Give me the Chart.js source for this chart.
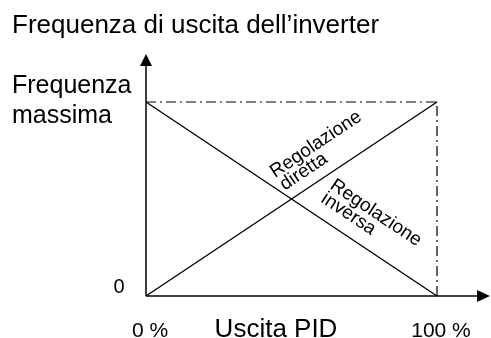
<!DOCTYPE html>
<html>
<head>
<meta charset="utf-8">
<script src="https://cdn.jsdelivr.net/npm/chart.js@4"></script>
<style>
  html, body { margin: 0; padding: 0; background: #fff; }
  #wrap { width: 491px; height: 338px; }
</style>
</head>
<body>
<div id="wrap"><canvas id="chart"></canvas></div>
<script>
// data
const pidOutput = [0, 100];          // x: uscita PID (%)
const directFreq = [0, 100];         // regolazione diretta
const inverseFreq = [100, 0];        // regolazione inversa
const maxFreqLine = [100, 100];      // frequenza massima (tratto-punto)
const fullScaleX = [100, 100];
const fullScaleY = [0, 100];

const xTickValues = [0, 100];
const xTickLabels = ['0 %', '100 %'];
const yTickValues = [0, 100];
const yTickLabels = [['0'], ['Frequenza', 'massima']];

const titleText = 'Frequenza di uscita dell\u2019inverter';
const xAxisTitle = 'Uscita PID';
const lineLabels = [['Regolazione', 'diretta'], ['Regolazione', 'inversa']];

const FONT = '"Liberation Sans", Arial, Helvetica, sans-serif';

function pts(xs, ys) {
  return xs.map((x, i) => ({ x: x, y: ys[i] }));
}

// assi con frecce + testi
const drawingPlugin = {
  id: 'drawing',
  afterDatasetsDraw(chart) {
    const ctx = chart.ctx;
    const xs = chart.scales.x;
    const ys = chart.scales.y;
    const x0 = xs.getPixelForValue(0);
    const y0 = ys.getPixelForValue(0);

    ctx.save();
    ctx.strokeStyle = '#000';
    ctx.fillStyle = '#000';
    ctx.lineWidth = 1.5;

    // asse y
    ctx.beginPath();
    ctx.moveTo(x0, y0);
    ctx.lineTo(x0, 64);
    ctx.stroke();
    ctx.beginPath();
    ctx.moveTo(x0, 54);
    ctx.lineTo(x0 - 6, 66);
    ctx.lineTo(x0 + 6, 66);
    ctx.closePath();
    ctx.fill();

    // asse x
    ctx.beginPath();
    ctx.moveTo(x0, y0);
    ctx.lineTo(480, y0);
    ctx.stroke();
    ctx.beginPath();
    ctx.moveTo(490, y0);
    ctx.lineTo(477, y0 - 6);
    ctx.lineTo(477, y0 + 6);
    ctx.closePath();
    ctx.fill();

    // titolo
    ctx.textBaseline = 'alphabetic';
    ctx.textAlign = 'left';
    ctx.font = '26px ' + FONT;
    ctx.fillText(titleText, 12, 33);

    // etichette asse y
    ctx.font = '20px ' + FONT;
    ctx.textAlign = 'center';
    ctx.fillText(yTickLabels[0][0], 119, ys.getPixelForValue(yTickValues[0]) - 3);
    ctx.font = '25px ' + FONT;
    ctx.textAlign = 'left';
    const yTop = ys.getPixelForValue(yTickValues[1]);
    ctx.fillText(yTickLabels[1][0], 12, yTop - 9);
    ctx.fillText(yTickLabels[1][1], 12, yTop + 21);

    // etichette asse x
    ctx.font = '21px ' + FONT;
    ctx.textAlign = 'center';
    xTickValues.forEach((v, i) => {
      ctx.fillText(xTickLabels[i], xs.getPixelForValue(v) + 4, 337);
    });
    ctx.font = '26px ' + FONT;
    ctx.fillText(xAxisTitle, 276, 337);

    // etichette ruotate
    const ang = Math.atan2(y0 - ys.getPixelForValue(100), xs.getPixelForValue(100) - x0);
    ctx.font = '19px ' + FONT;
    ctx.textAlign = 'left';

    ctx.save();
    ctx.translate(275, 178);
    ctx.rotate(-ang);
    ctx.fillText(lineLabels[0][0], 0, 0);
    ctx.fillText(lineLabels[0][1], 1, 16);
    ctx.restore();

    ctx.save();
    ctx.translate(329, 188);
    ctx.rotate(ang);
    ctx.fillText(lineLabels[1][0], 0, 0);
    ctx.fillText(lineLabels[1][1], 0, 16);
    ctx.restore();

    ctx.restore();
  }
};

new Chart(document.getElementById('chart'), {
  type: 'scatter',
  data: {
    datasets: [
      {
        label: 'Regolazione diretta',
        data: pts(pidOutput, directFreq),
        showLine: true,
        borderColor: '#000',
        borderWidth: 1.4,
        pointRadius: 0,
        clip: false
      },
      {
        label: 'Regolazione inversa',
        data: pts(pidOutput, inverseFreq),
        showLine: true,
        borderColor: '#000',
        borderWidth: 1.4,
        pointRadius: 0,
        clip: false
      },
      {
        label: 'Frequenza massima',
        data: pts(pidOutput, maxFreqLine),
        showLine: true,
        borderColor: '#000',
        borderWidth: 1.2,
        borderDash: [10, 4, 2, 4],
        pointRadius: 0,
        clip: false
      },
      {
        label: '100 %',
        data: pts(fullScaleX, fullScaleY),
        showLine: true,
        borderColor: '#000',
        borderWidth: 1.2,
        borderDash: [10, 4, 2, 4],
        pointRadius: 0,
        clip: false
      }
    ]
  },
  options: {
    responsive: true,
    maintainAspectRatio: false,
    animation: false,
    layout: { padding: { left: 146, right: 54, top: 102, bottom: 42 } },
    plugins: {
      legend: { display: false },
      tooltip: { enabled: false },
      title: { display: false }
    },
    scales: {
      x: { type: 'linear', min: 0, max: 100, display: false },
      y: { type: 'linear', min: 0, max: 100, display: false }
    }
  },
  plugins: [drawingPlugin]
});
</script>
</body>
</html>
